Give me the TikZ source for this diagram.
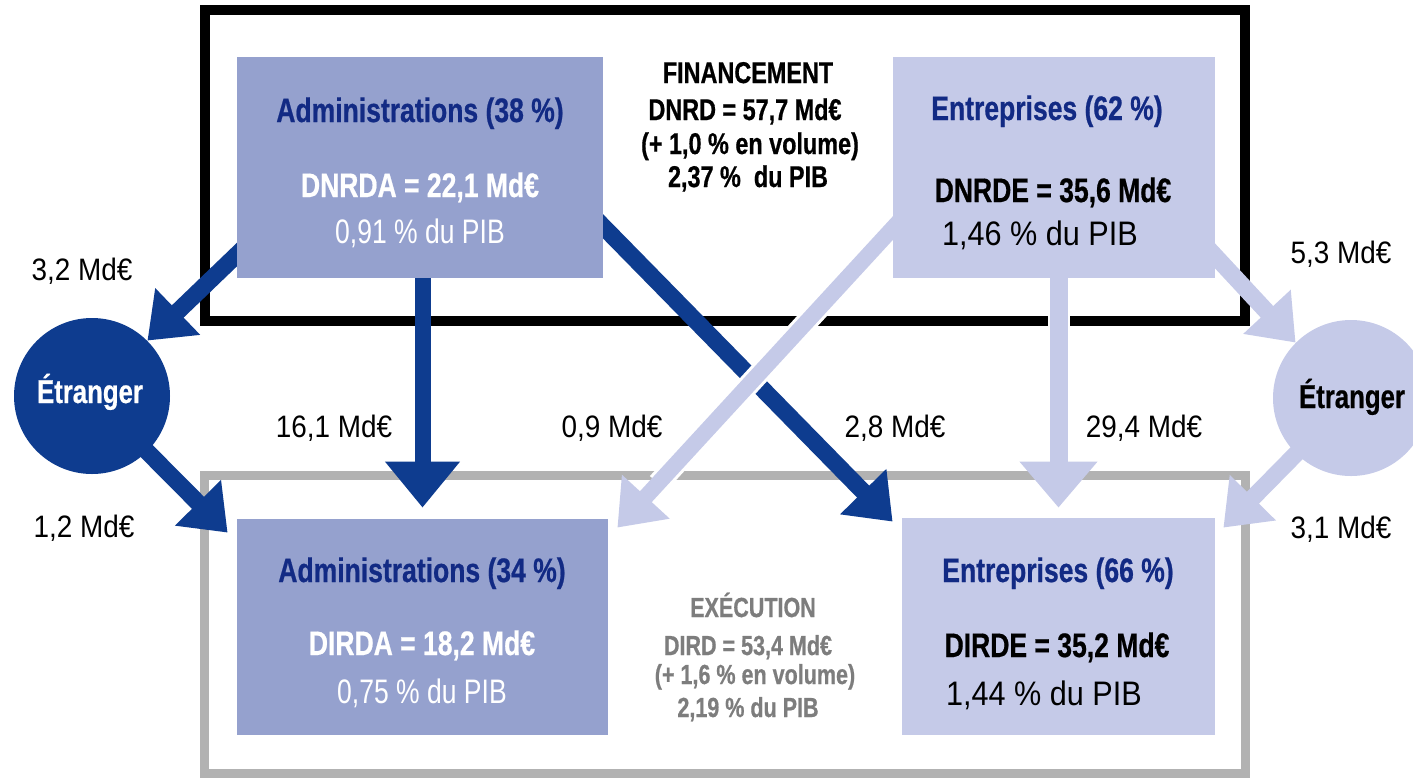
\documentclass[tikz,border=0pt]{standalone}
\usepackage{fontspec}
\setmainfont{Liberation Sans}[FakeStretch=0.78,BoldFeatures={FakeBold=0.6}]
\newfontfamily\widefont{Liberation Sans}[FakeStretch=0.9]
\usetikzlibrary{arrows.meta,calc}
\definecolor{dblue}{RGB}{14,60,143}
\definecolor{lblue}{RGB}{197,202,232}
\definecolor{mblue}{RGB}{149,161,206}
\definecolor{tblue}{RGB}{18,42,132}
\definecolor{fgray}{RGB}{178,178,178}
\definecolor{tgray}{RGB}{125,125,125}
\begin{document}
\begin{tikzpicture}[x=0.5pt,y=-0.5pt,
  box/.style={rectangle, inner sep=0pt, draw=none},
  boxA/.style={box, fill=mblue},
  boxE/.style={box, fill=lblue},
  txt/.style={anchor=base, inner sep=0pt},
  ttl/.style={txt, font=\fontsize{17pt}{20pt}\selectfont\bfseries, text=tblue},
  valw/.style={txt, font=\fontsize{17pt}{20pt}\selectfont\bfseries, text=white},
  pibw/.style={txt, font=\fontsize{17pt}{20pt}\selectfont, text=white},
  valk/.style={txt, font=\fontsize{17pt}{20pt}\selectfont\bfseries, text=black},
  pibk/.style={txt, font=\widefont\fontsize{17pt}{20pt}\selectfont, text=black},
  lbl/.style={txt, font=\widefont\fontsize{15.5pt}{18pt}\selectfont, text=black},
  fin/.style={txt, font=\fontsize{15pt}{18pt}\selectfont\bfseries, text=black},
  exe/.style={txt, font=\fontsize{13.8pt}{16pt}\selectfont\bfseries, text=tgray},
  etr/.style={circle, inner sep=0pt, minimum size=78pt},
  etrt/.style={txt, font=\fontsize{16.5pt}{20pt}\selectfont\bfseries},
  darr/.style={draw=dblue, line width=8.5pt, -{Triangle[width=31pt,length=21pt]}},
  darrv/.style={draw=dblue, line width=8pt, -{Triangle[width=36pt,length=23pt]}},
  larr/.style={draw=lblue, line width=8.5pt, -{Triangle[width=31pt,length=21pt]}},
  larrv/.style={draw=lblue, line width=9pt, -{Triangle[width=37.5pt,length=23pt]}},
  halo/.style={draw=white, line width=11pt},
  frameK/.style={draw=black, line width=5pt},
  frameG/.style={draw=fgray, line width=4.5pt}
]
\clip (0,0) rectangle (1413,778);
\fill[white] (0,0) rectangle (1413,778);

% frames
\draw[frameK] (205,10) rectangle (1245,321);
\draw[frameG] (204,475) rectangle (1245,773);

% boxes (named, drawn again on top of arrows)
\path
  (420,167.5) node[boxA, minimum width=183pt, minimum height=110.5pt] (admT) {}
  (1054,167.5) node[boxE, minimum width=161pt, minimum height=110.5pt] (entT) {}
  (422.5,627) node[boxA, minimum width=185.5pt, minimum height=108pt] (admB) {}
  (1058.5,626.5) node[boxE, minimum width=156.5pt, minimum height=108.5pt] (entB) {}
  (92,396) node[etr] (etrL) {}
  (1351,398) node[etr] (etrR) {};

% dark arrows
\draw[darr] ($(admT.south west)+(13,-36)$) -- (etrL.45);
\draw[darr] (etrL.center) -- ($(admB.north west)+(-9,14)$);
\draw[darrv] (admT.south -| admB.north) -- ([yshift=5.5pt]admB.north);
\draw[darr] ($(admT.east)+(-11,48)$) -- ($(entB.north west)+(-9,4)$);

% light arrows (with a thin white halo)
\draw[halo, shorten >=30pt] ($(entT.west)+(10,50)$) -- ($(admB.north east)+(9,9)$);
\draw[larr, line width=8pt] ($(entT.west)+(10,50)$) -- ($(admB.north east)+(9,9)$);
\draw[halo, shorten >=30pt] (entT.south -| entB.north) -- ([yshift=5pt]entB.north);
\draw[larrv] (entT.south -| entB.north) -- ([yshift=5pt]entB.north);
\draw[larr] ($(entT.south east)+(-12,-35)$) -- (etrR.135);
\draw[larr] (etrR.center) -- ($(entB.north east)+(8,10)$);

% boxes on top
\fill[mblue] (admT.north west) rectangle (admT.south east);
\fill[lblue] (entT.north west) rectangle (entT.south east);
\fill[mblue] (admB.north west) rectangle (admB.south east);
\fill[lblue] (entB.north west) rectangle (entB.south east);
\fill[dblue] (etrL.center) circle[radius=78];
\fill[lblue] (etrR.center) circle[radius=78];

% box texts
\node[ttl]  (tA1) at (420,122) {Administrations (38 \%)};
\node[valw] (tA2) at (420,197) {DNRDA = 22,1 Md€};
\node[pibw] (tA3) at (420,243) {0,91 \% du PIB};

\node[ttl]  (tE1) at (1047,120) {Entreprises (62 \%)};
\node[valk] (tE2) at (1053,202) {DNRDE = 35,6 Md€};
\node[pibk] (tE3) at (1040,245) {1,46 \% du PIB};

\node[ttl]  (tB1) at (422,582) {Administrations (34 \%)};
\node[valw] (tB2) at (422,655) {DIRDA = 18,2 Md€};
\node[pibw] (tB3) at (422,703) {0,75 \% du PIB};

\node[ttl]  (tF1) at (1058,582) {Entreprises (66 \%)};
\node[valk] (tF2) at (1057,657) {DIRDE = 35,2 Md€};
\node[pibk] (tF3) at (1044,705) {1,44 \% du PIB};

% financement / execution
\node[fin] (f1) at (748,83) {FINANCEMENT};
\node[fin] (f2) at (745,120) {DNRD = 57,7 Md€};
\node[fin] (f3) at (750,154) {(+ 1,0 \% en volume)};
\node[fin] (f4) at (748,187) {2,37 \%\ \ du PIB};

\node[exe] (e1) at (753,617) {EXÉCUTION};
\node[exe] (e2) at (748,655) {DIRD = 53,4 Md€};
\node[exe] (e3) at (755,684) {(+ 1,6 \% en volume)};
\node[exe] (e4) at (748,717) {2,19 \% du PIB};

% Etranger
\node[etrt, text=white] (eL) at (90,403) {Étranger};
\node[etrt, text=black] (eR) at (1352,408) {Étranger};

% flow labels
\node[lbl] (l1) at (82,280) {3,2 Md€};
\node[lbl] (l2) at (84,537) {1,2 Md€};
\node[lbl] (l3) at (334,437) {16,1 Md€};
\node[lbl] (l4) at (612,437) {0,9 Md€};
\node[lbl] (l5) at (895,437) {2,8 Md€};
\node[lbl] (l6) at (1144,437) {29,4 Md€};
\node[lbl] (l7) at (1341,263) {5,3 Md€};
\node[lbl] (l8) at (1341,538) {3,1 Md€};
\end{tikzpicture}
\end{document}
